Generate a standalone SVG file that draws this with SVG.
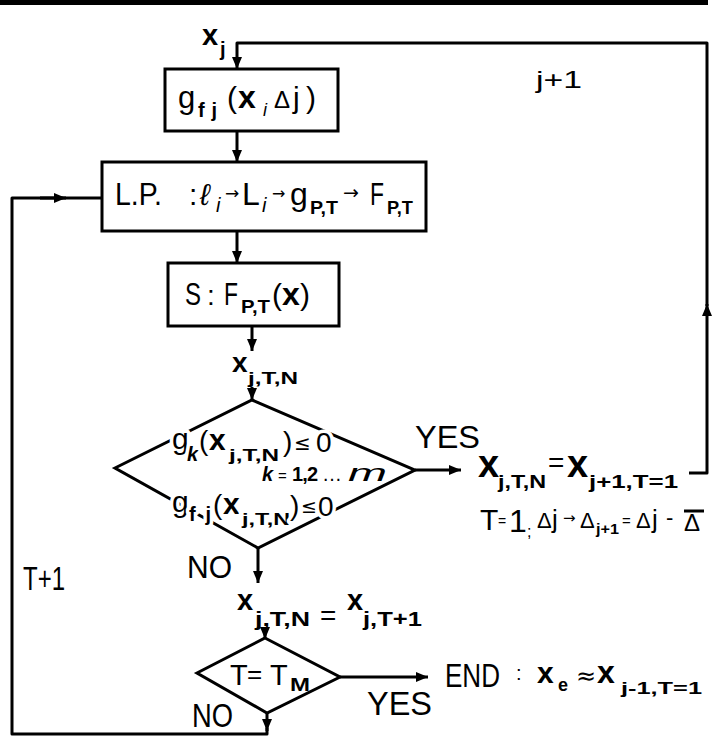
<svg xmlns="http://www.w3.org/2000/svg" width="716" height="737" viewBox="0 0 716 737">
<style>
.t{font-family:"Liberation Sans",Arial,sans-serif;fill:#000}
.d{font-family:"DejaVu Sans",sans-serif;fill:#000}
.b{font-weight:bold}
.i{font-style:italic}
.h{stroke:#fff;stroke-width:7;paint-order:stroke;stroke-linejoin:round}
.box{fill:#fff;stroke:#000;stroke-width:3}
.ln{fill:none;stroke:#000;stroke-width:3;stroke-linejoin:round}
.ar{marker-end:url(#ah)}
</style>
<defs>
<marker id="ah" viewBox="0 0 12 10" refX="12" refY="5" markerWidth="12" markerHeight="10" markerUnits="userSpaceOnUse" orient="auto">
<path d="M0,0 L12,5 L0,10 z" fill="#000"/>
</marker>
</defs>
<rect x="0" y="0" width="708" height="5" fill="#000"/>

<g id="connectors">
<path class="ln ar" d="M689 473 H707 V304"/>
<path class="ln ar" d="M707 306 V43 H237 V69"/>
<path class="ln ar" d="M237 131 V162"/>
<path class="ln ar" d="M237 231 V263"/>
<path class="ln ar" d="M252 326 V351"/>
<path class="ln ar" d="M252 387 V400"/>
<path class="ln ar" d="M415 470 H461"/>
<path class="ln ar" d="M258 548 V583"/>
<path class="ln ar" d="M265 627 V639"/>
<path class="ln ar" d="M340 677 H428"/>
<path class="ln ar" d="M267 713 V731"/>
<path class="ln" d="M267 728 V734 H12 V198 H102"/>
<path class="ln ar" d="M40 198 H66"/>
<text class="t" x="536" y="88" font-size="24" textLength="46" lengthAdjust="spacingAndGlyphs">j+1</text>
<text class="t" x="23" y="590" font-size="34" textLength="42" lengthAdjust="spacingAndGlyphs">T+1</text>
<text class="t" x="415" y="448" font-size="32" textLength="65" lengthAdjust="spacingAndGlyphs">YES</text>
<text class="t" x="187" y="578" font-size="32" textLength="45" lengthAdjust="spacingAndGlyphs">NO</text>
<text class="t" x="367" y="715" font-size="34" textLength="65" lengthAdjust="spacingAndGlyphs">YES</text>
<text class="t" x="192" y="727" font-size="33" textLength="41" lengthAdjust="spacingAndGlyphs">NO</text>
</g>

<g id="start">
<text class="t b" x="202" y="45" font-size="29">x</text>
<text class="t b" x="220" y="56" font-size="20">j</text>
</g>

<g id="n-gfj">
<rect class="box" x="165" y="69" width="173" height="62"/>
<text class="t" x="178" y="108" font-size="31">g</text>
<text class="t b" x="198" y="117" font-size="20" textLength="19" lengthAdjust="spacing">fj</text>
<text class="t" x="227" y="108" font-size="30">(</text>
<text class="t b" x="238" y="108" font-size="32">x</text>
<text class="t i" x="263" y="116" font-size="18">i</text>
<text class="t" x="274" y="108" font-size="24">Δ</text>
<text class="t" x="293" y="108" font-size="30">j</text>
<text class="t" x="306" y="108" font-size="30">)</text>
</g>

<g id="n-lp">
<rect class="box" x="102" y="162" width="324" height="69"/>
<text class="t" x="115" y="205" font-size="32" textLength="47" lengthAdjust="spacingAndGlyphs">L.P.</text>
<text class="t" x="189" y="205" font-size="30">:</text>
<text class="t i" x="200" y="205" font-size="30">ℓ</text>
<text class="t i" x="216" y="212" font-size="20">i</text>
<text class="d" x="225" y="199" font-size="17">→</text>
<text class="t" x="242" y="205" font-size="32">L</text>
<text class="t i" x="262" y="212" font-size="20">i</text>
<text class="d" x="272" y="199" font-size="16">→</text>
<text class="t" x="290" y="205" font-size="32">g</text>
<text class="t b" x="310" y="214" font-size="18" textLength="28" lengthAdjust="spacingAndGlyphs">P,T</text>
<text class="d" x="343" y="199" font-size="19">→</text>
<text class="t" x="370" y="205" font-size="32" textLength="14" lengthAdjust="spacingAndGlyphs">F</text>
<text class="t b" x="387" y="214" font-size="18" textLength="26" lengthAdjust="spacingAndGlyphs">P,T</text>
</g>

<g id="n-s">
<rect class="box" x="168" y="263" width="171" height="63"/>
<text class="t" x="185" y="305" font-size="32" textLength="16" lengthAdjust="spacingAndGlyphs">S</text>
<text class="t" x="207" y="305" font-size="28">:</text>
<text class="t" x="224" y="305" font-size="32" textLength="14" lengthAdjust="spacingAndGlyphs">F</text>
<text class="t b" x="241" y="313" font-size="18" textLength="29" lengthAdjust="spacingAndGlyphs">P,T</text>
<text class="t" x="272" y="305" font-size="30">(</text>
<text class="t b" x="282" y="305" font-size="32">x</text>
<text class="t" x="300" y="305" font-size="30">)</text>
</g>

<g id="label-xjtn">
<text class="t b" x="232" y="372" font-size="28">x</text>
<text class="t b" x="248" y="384" font-size="17" textLength="50" lengthAdjust="spacingAndGlyphs">j,T,N</text>
</g>

<g id="n-check">
<polygon class="box" points="252,400 415,470 258,548 115,468"/>
<text class="t h" x="172" y="449" font-size="30">g</text>
<text class="t b i h" x="187" y="461" font-size="20">k</text>
<text class="t h" x="199" y="450" font-size="28">(</text>
<text class="t b h" x="209" y="450" font-size="30">x</text>
<text class="t b h" x="229" y="461" font-size="17" textLength="50" lengthAdjust="spacingAndGlyphs">j,T,N</text>
<text class="t h" x="283" y="451" font-size="28">)</text>
<text class="d h" x="294" y="450" font-size="20">≤</text>
<text class="t h" x="316" y="452" font-size="28">0</text>
<text class="t b i" x="262" y="481" font-size="20">k</text>
<text class="t" x="278" y="481" font-size="15">=</text>
<text class="t b" x="292" y="481" font-size="20" textLength="26" lengthAdjust="spacing">1,2</text>
<text class="t" x="322" y="481" font-size="20">…</text>
<text class="t i" x="348" y="481" font-size="24" textLength="39" lengthAdjust="spacingAndGlyphs">m</text>
<text class="t h" x="172" y="512" font-size="30">g</text>
<text class="t b h" x="189" y="521" font-size="20" textLength="22" lengthAdjust="spacing">fj</text>
<text class="t h" x="213" y="514" font-size="28">(</text>
<text class="t b h" x="223" y="514" font-size="30">x</text>
<text class="t b h" x="242" y="525" font-size="17" textLength="48" lengthAdjust="spacingAndGlyphs">j,T,N</text>
<text class="t h" x="290" y="515" font-size="28">)</text>
<text class="d h" x="301" y="513" font-size="19">≤</text>
<text class="t h" x="318" y="516" font-size="28">0</text>
</g>

<g id="n-next">
<text class="t b" x="478" y="477" font-size="38">x</text>
<text class="t b" x="498" y="488" font-size="18" textLength="48" lengthAdjust="spacingAndGlyphs">j,T,N</text>
<text class="t" x="548" y="472" font-size="28">=</text>
<text class="t b" x="567" y="477" font-size="38">x</text>
<text class="t b" x="589" y="488" font-size="18" textLength="89" lengthAdjust="spacingAndGlyphs">j+1,T=1</text>
<text class="t" x="480" y="530" font-size="30">T</text>
<text class="t" x="498" y="526" font-size="14">=</text>
<text class="t" x="509" y="532" font-size="32">1</text>
<text class="t" x="527" y="537" font-size="16">;</text>
<text class="t" x="537" y="528" font-size="22">Δ</text>
<text class="t" x="552" y="528" font-size="26">j</text>
<text class="d" x="563" y="523" font-size="15">→</text>
<text class="t" x="580" y="528" font-size="22">Δ</text>
<text class="t b" x="596" y="534" font-size="15" textLength="23" lengthAdjust="spacingAndGlyphs">j+1</text>
<text class="t" x="622" y="526" font-size="15">=</text>
<text class="t" x="636" y="528" font-size="22">Δ</text>
<text class="t" x="652" y="528" font-size="26">j</text>
<text class="t" x="666" y="525" font-size="22">-</text>
<text class="t" x="684" y="531" font-size="24">Δ</text>
<path class="ln" d="M684 511 H704" stroke-width="2.5"/>
</g>

<g id="label-xjt1">
<text class="t b" x="237" y="610" font-size="29">x</text>
<text class="t b" x="255" y="626" font-size="20" textLength="55" lengthAdjust="spacingAndGlyphs">j,T,N</text>
<text class="t" x="320" y="625" font-size="28">=</text>
<text class="t b" x="347" y="610" font-size="29">x</text>
<text class="t b" x="363" y="626" font-size="20" textLength="59" lengthAdjust="spacingAndGlyphs">j,T+1</text>
</g>

<g id="n-tm">
<polygon class="box" points="265,638 340,677 267,713 197,673"/>
<text class="t" x="230" y="685" font-size="29">T</text>
<text class="t" x="247" y="683" font-size="26">=</text>
<text class="t" x="270" y="685" font-size="29">T</text>
<text class="t b" x="290" y="691" font-size="18" textLength="20" lengthAdjust="spacingAndGlyphs">M</text>
</g>

<g id="n-end">
<text class="t" x="445" y="687" font-size="34" textLength="55" lengthAdjust="spacingAndGlyphs">END</text>
<text class="t" x="516" y="680" font-size="20">:</text>
<text class="t b" x="537" y="683" font-size="30">x</text>
<text class="t b" x="558" y="691" font-size="18">e</text>
<text class="d" x="576" y="684" font-size="24">≈</text>
<text class="t b" x="597" y="683" font-size="32">x</text>
<text class="t b" x="621" y="694" font-size="17" textLength="81" lengthAdjust="spacingAndGlyphs">j-1,T=1</text>
</g>
</svg>
